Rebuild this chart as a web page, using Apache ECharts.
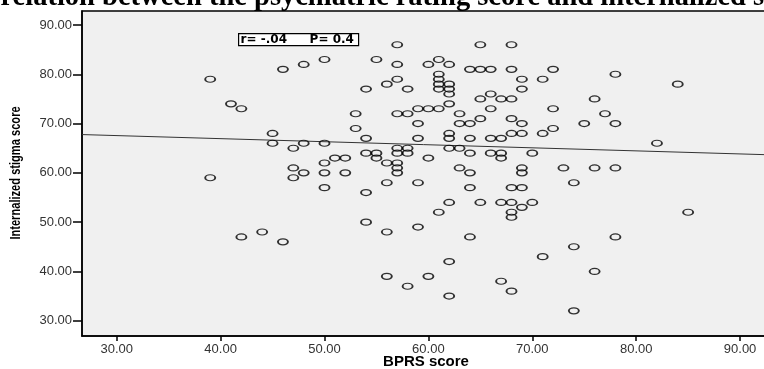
<!DOCTYPE html>
<html>
<head>
<meta charset="utf-8">
<script src="https://cdn.jsdelivr.net/npm/echarts@6/dist/echarts.min.js"></script>
<style>
  html, body { margin: 0; padding: 0; background: #fff; }
  #chart { width: 764px; height: 369px; }
</style>
</head>
<body>
<div id="chart"></div>
<script>
// BPRS score vs internalized stigma score, one entry per patient
var bprs = [39, 41, 42, 39, 57, 46, 48, 50, 55, 57, 56, 57, 58, 54, 53, 57, 58, 59, 53, 59,
  45, 54, 59, 45, 48, 50, 47, 57, 58, 57, 58, 54, 55, 55, 51, 52, 56, 57, 57, 57,
  50, 47, 47, 48, 50, 52, 65, 68, 60, 61, 62, 64, 65, 66, 68, 72, 61, 61, 61, 61,
  62, 62, 62, 62, 69, 69, 71, 66, 65, 67, 68, 60, 61, 66, 72, 63, 63, 64, 65, 68,
  69, 62, 62, 64, 66, 67, 68, 69, 71, 72, 62, 63, 64, 60, 66, 67, 67, 70, 63, 64,
  69, 69, 73, 78, 84, 76, 77, 75, 78, 82, 76, 78, 42, 44, 56, 59, 50, 54, 46, 54,
  56, 59, 56, 58, 64, 68, 69, 74, 62, 65, 67, 68, 70, 69, 68, 68, 61, 64, 74, 71,
  62, 60, 67, 68, 62, 74, 85, 78, 76];
var stigma = [79, 74, 73, 59, 86, 81, 82, 83, 83, 82, 78, 79, 77, 77, 72, 72, 72, 73, 69, 70,
  68, 67, 67, 66, 66, 66, 65, 65, 65, 64, 64, 64, 64, 63, 63, 63, 62, 62, 61, 60,
  62, 61, 59, 60, 60, 60, 86, 86, 82, 83, 82, 81, 81, 81, 81, 81, 80, 79, 78, 77,
  78, 77, 76, 74, 79, 77, 79, 76, 75, 75, 75, 73, 73, 73, 73, 72, 70, 70, 71, 71,
  70, 68, 67, 67, 67, 67, 68, 68, 68, 69, 65, 65, 64, 63, 64, 64, 63, 64, 61, 60,
  61, 60, 61, 80, 78, 75, 72, 70, 70, 66, 61, 61, 47, 48, 58, 58, 57, 56, 46, 50,
  48, 49, 39, 37, 57, 57, 57, 58, 54, 54, 54, 54, 54, 53, 52, 51, 52, 47, 45, 43,
  42, 39, 38, 36, 35, 32, 52, 47, 40];

var xTicks = [30, 40, 50, 60, 70, 80, 90];
var yTicks = [30, 40, 50, 60, 70, 80, 90];

// fit line
var fitIntercept = 69.42;
var fitSlope = -0.062;

var xMin = 26.66, xMax = 92.88;
var yMin = 26.9, yMax = 92.84;

var points = bprs.map(function (b, i) { return [b, stigma[i]]; });
var fitLine = [xMin, xMax].map(function (x) { return [x, fitIntercept + fitSlope * x]; });

var chart = echarts.init(document.getElementById('chart'));

var tickLabel = {
  color: '#333',
  fontFamily: 'Liberation Sans',
  fontSize: 13,
  formatter: function (v) { return Number(v).toFixed(2); }
};

var boxText = { fontFamily: 'DejaVu Sans', fontWeight: 'bold', fontSize: 12, fill: '#000', verticalAlign: 'middle' };

var option = {
  animation: false,
  grid: {
    left: 82, top: 11, right: -6, bottom: 33,
    outerBoundsMode: 'none',
    show: true,
    backgroundColor: '#f0f0f0',
    borderColor: '#000',
    borderWidth: 1.5
  },
  xAxis: {
    type: 'value',
    min: xMin, max: xMax,
    name: 'BPRS score',
    nameLocation: 'middle',
    nameMoveOverlap: false,
    nameGap: 18,
    nameTextStyle: { fontFamily: 'Liberation Sans', fontWeight: 'bold', fontSize: 15, color: '#000' },
    axisLine: { lineStyle: { color: '#000', width: 1.5 } },
    axisTick: { customValues: xTicks, length: 5, lineStyle: { color: '#000', width: 1.5 } },
    axisLabel: Object.assign({ customValues: xTicks, margin: 7 }, tickLabel),
    splitLine: { show: false }
  },
  yAxis: {
    type: 'value',
    min: yMin, max: yMax,
    axisLine: { show: true, lineStyle: { color: '#000', width: 1.5 } },
    axisTick: { show: true, customValues: yTicks, length: 9, lineStyle: { color: '#000', width: 1.5 } },
    axisLabel: Object.assign({ customValues: yTicks, margin: 10 }, tickLabel),
    splitLine: { show: false }
  },
  graphic: [
    {
      type: 'text',
      left: -47, top: -17,
      style: {
        text: 'Correlation between the psychiatric rating score and internalized stigma score',
        fontFamily: 'Liberation Serif',
        fontWeight: 'bold',
        fontSize: 28.5,
        fill: '#000'
      }
    },
    {
      type: 'text',
      x: 16, y: 173,
      rotation: Math.PI / 2,
      scaleX: 0.74,
      style: {
        text: 'Internalized stigma score',
        fontFamily: 'Liberation Sans',
        fontWeight: 'bold',
        fontSize: 15,
        fill: '#000',
        align: 'center',
        verticalAlign: 'middle'
      }
    },
    {
      type: 'group',
      left: 238, top: 33,
      children: [
        { type: 'rect', shape: { x: 0, y: 0, width: 120, height: 12 },
          style: { fill: '#fff', stroke: '#000', lineWidth: 1.2 } },
        { type: 'text', x: 2, y: 6.5, style: Object.assign({ text: 'r= -.04' }, boxText) },
        { type: 'text', x: 71, y: 6.5, style: Object.assign({ text: 'P= 0.4' }, boxText) }
      ]
    }
  ],
  series: [
    {
      type: 'line',
      data: fitLine,
      symbol: 'none',
      silent: true,
      lineStyle: { color: '#333', width: 1 },
      z: 1
    },
    {
      type: 'scatter',
      data: points,
      symbol: 'circle',
      symbolSize: [10, 6],
      itemStyle: { color: 'rgba(0,0,0,0)', borderColor: '#000', borderWidth: 1.5 },
      z: 2
    }
  ]
};

chart.setOption(option);
</script>
</body>
</html>
